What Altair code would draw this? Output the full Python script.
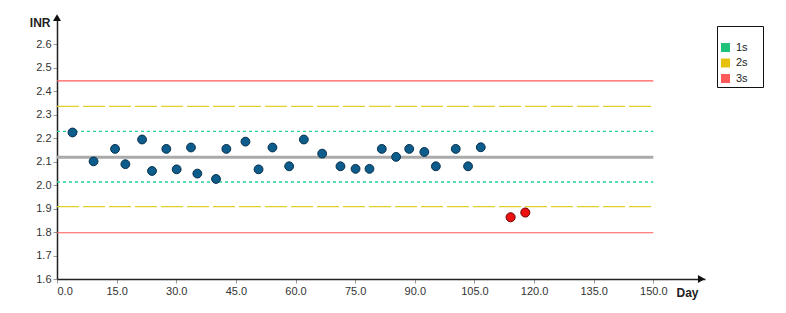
import altair as alt
import pandas as pd

# ---- data ----
days = [3.9, 9.2, 14.6, 17.2, 21.4, 23.9, 27.5, 30.1, 33.7, 35.3, 40.0, 42.6,
        47.4, 50.7, 54.2, 58.4, 62.1, 66.7, 71.3, 75.1, 78.6, 81.7, 85.3, 88.6,
        92.4, 95.3, 100.3, 103.4, 106.6, 114.1, 117.8]
inr = [2.224, 2.101, 2.154, 2.089, 2.194, 2.060, 2.154, 2.067, 2.160, 2.049,
       2.026, 2.154, 2.185, 2.067, 2.160, 2.080, 2.194, 2.134, 2.080, 2.069,
       2.069, 2.154, 2.120, 2.154, 2.141, 2.080, 2.154, 2.080, 2.161, 1.863, 1.883]
out_of_control = [False] * 29 + [True, True]

mean_value = 2.118
levels = ["1s", "2s", "3s"]
upper_limits = [2.229, 2.335, 2.444]
lower_limits = [2.013, 1.908, 1.797]
line_colors = ["#22d49c", "#e3cf2a", "#ff5a5a"]
line_dashes = [[3, 3], [22, 4], [1, 0]]
line_widths = [1.3, 1.2, 1.2]
legend_colors = ["#1fc27a", "#e6c20e", "#ff5a5a"]

x_ticks = [0, 15, 30, 45, 60, 75, 90, 105, 120, 135, 150]
y_ticks = [1.6, 1.7, 1.8, 1.9, 2.0, 2.1, 2.2, 2.3, 2.4, 2.5, 2.6]
x_domain = [0, 163]
y_domain = [1.6, 2.72]
line_start, line_end = 0, 150
x_arrow = 162.1
y_arrow = 2.713

FONT = "Liberation Sans"

pts = pd.DataFrame({"day": days, "inr": inr, "out": out_of_control})
xs = alt.Scale(domain=x_domain, nice=False, zero=False)
ys = alt.Scale(domain=y_domain, nice=False, zero=False)

x_axis = alt.Axis(values=x_ticks, format=".1f", title="Day", titleAngle=0,
                  titleAlign="left", titleBaseline="alphabetic", titleX=619, titleY=17,
                  titleFont=FONT, titleFontSize=12, titleFontWeight="bold", titleColor="#222",
                  labelFont=FONT, labelFontSize=11, labelColor="#333", labelPadding=2,
                  tickSize=4, tickColor="#999", domainColor="#222", domainWidth=1.5, grid=False)
y_axis = alt.Axis(values=y_ticks, format=".1f", title="INR", titleAngle=0,
                  titleAlign="right", titleBaseline="alphabetic", titleX=-7, titleY=10,
                  titleFont=FONT, titleFontSize=12, titleFontWeight="bold", titleColor="#222",
                  labelFont=FONT, labelFontSize=11, labelColor="#333", labelPadding=2,
                  tickSize=4, tickColor="#999", domainColor="#222", domainWidth=1.5, grid=False)


def X(field):
    return alt.X(field, scale=xs, axis=x_axis)


def Y(field):
    return alt.Y(field, scale=ys, axis=y_axis)


layers = []

# control limit lines
for lvl, up, lo, c, d, w in zip(levels, upper_limits, lower_limits, line_colors, line_dashes, line_widths):
    df = pd.DataFrame({"x0": [line_start, line_start], "x1": [line_end, line_end], "y": [up, lo]})
    layers.append(
        alt.Chart(df).mark_rule(color=c, strokeDash=d, strokeWidth=w).encode(
            x=X("x0:Q"), x2="x1:Q", y=Y("y:Q"))
    )

mean_df = pd.DataFrame({"x0": [line_start], "x1": [line_end], "y": [mean_value]})
layers.append(
    alt.Chart(mean_df).mark_rule(color="#aaaaaa", strokeWidth=3).encode(
        x=X("x0:Q"), x2="x1:Q", y=Y("y:Q"))
)

# points
layers.append(
    alt.Chart(pts).transform_filter("!datum.out").mark_point(
        filled=True, size=78, fill="#0d5d8c", stroke="#082f4c", strokeWidth=1, opacity=1).encode(
        x=X("day:Q"), y=Y("inr:Q"))
)
layers.append(
    alt.Chart(pts).transform_filter("datum.out").mark_point(
        filled=True, size=82, fill="#ee1111", stroke="#6a0000", strokeWidth=1, opacity=1).encode(
        x=X("day:Q"), y=Y("inr:Q"))
)

# axis arrows
layers.append(
    alt.Chart(pd.DataFrame({"x": [0], "y": [y_arrow]})).mark_point(
        shape="triangle-up", filled=True, size=64, color="#111", opacity=1).encode(
        x=X("x:Q"), y=Y("y:Q"))
)
layers.append(
    alt.Chart(pd.DataFrame({"x": [x_arrow], "y": [y_domain[0]]})).mark_point(
        shape="triangle-right", filled=True, size=64, color="#111", opacity=1).encode(
        x=X("x:Q"), y=Y("y:Q"))
)

# legend carrier
leg_df = pd.DataFrame({"level": levels})
layers.append(
    alt.Chart(leg_df).mark_square(opacity=0, size=1).encode(
        x=alt.value(0), y=alt.value(0),
        fill=alt.Fill("level:N", scale=alt.Scale(domain=levels, range=legend_colors),
                      legend=alt.Legend(orient="none", legendX=660, legendY=10,
                                        title="000000.", titleColor="white",
                                        titleFontSize=11, titlePadding=2,
                                        padding=3, strokeColor="#111", fillColor="white",
                                        symbolType="square", symbolSize=81, symbolOpacity=1,
                                        symbolStrokeWidth=0, labelFont=FONT, labelFontSize=11,
                                        labelColor="#222", rowPadding=3.5, labelOffset=5)))
)

chart = alt.layer(*layers).properties(
    width=648, height=263,
    autosize=alt.AutoSizeParams(type="none"),
    padding={"left": 49, "top": 8, "right": 73, "bottom": 26},
    background="white",
).configure_view(stroke=None)

chart.save("out.html", embed_options={"renderer": "svg", "actions": False})
